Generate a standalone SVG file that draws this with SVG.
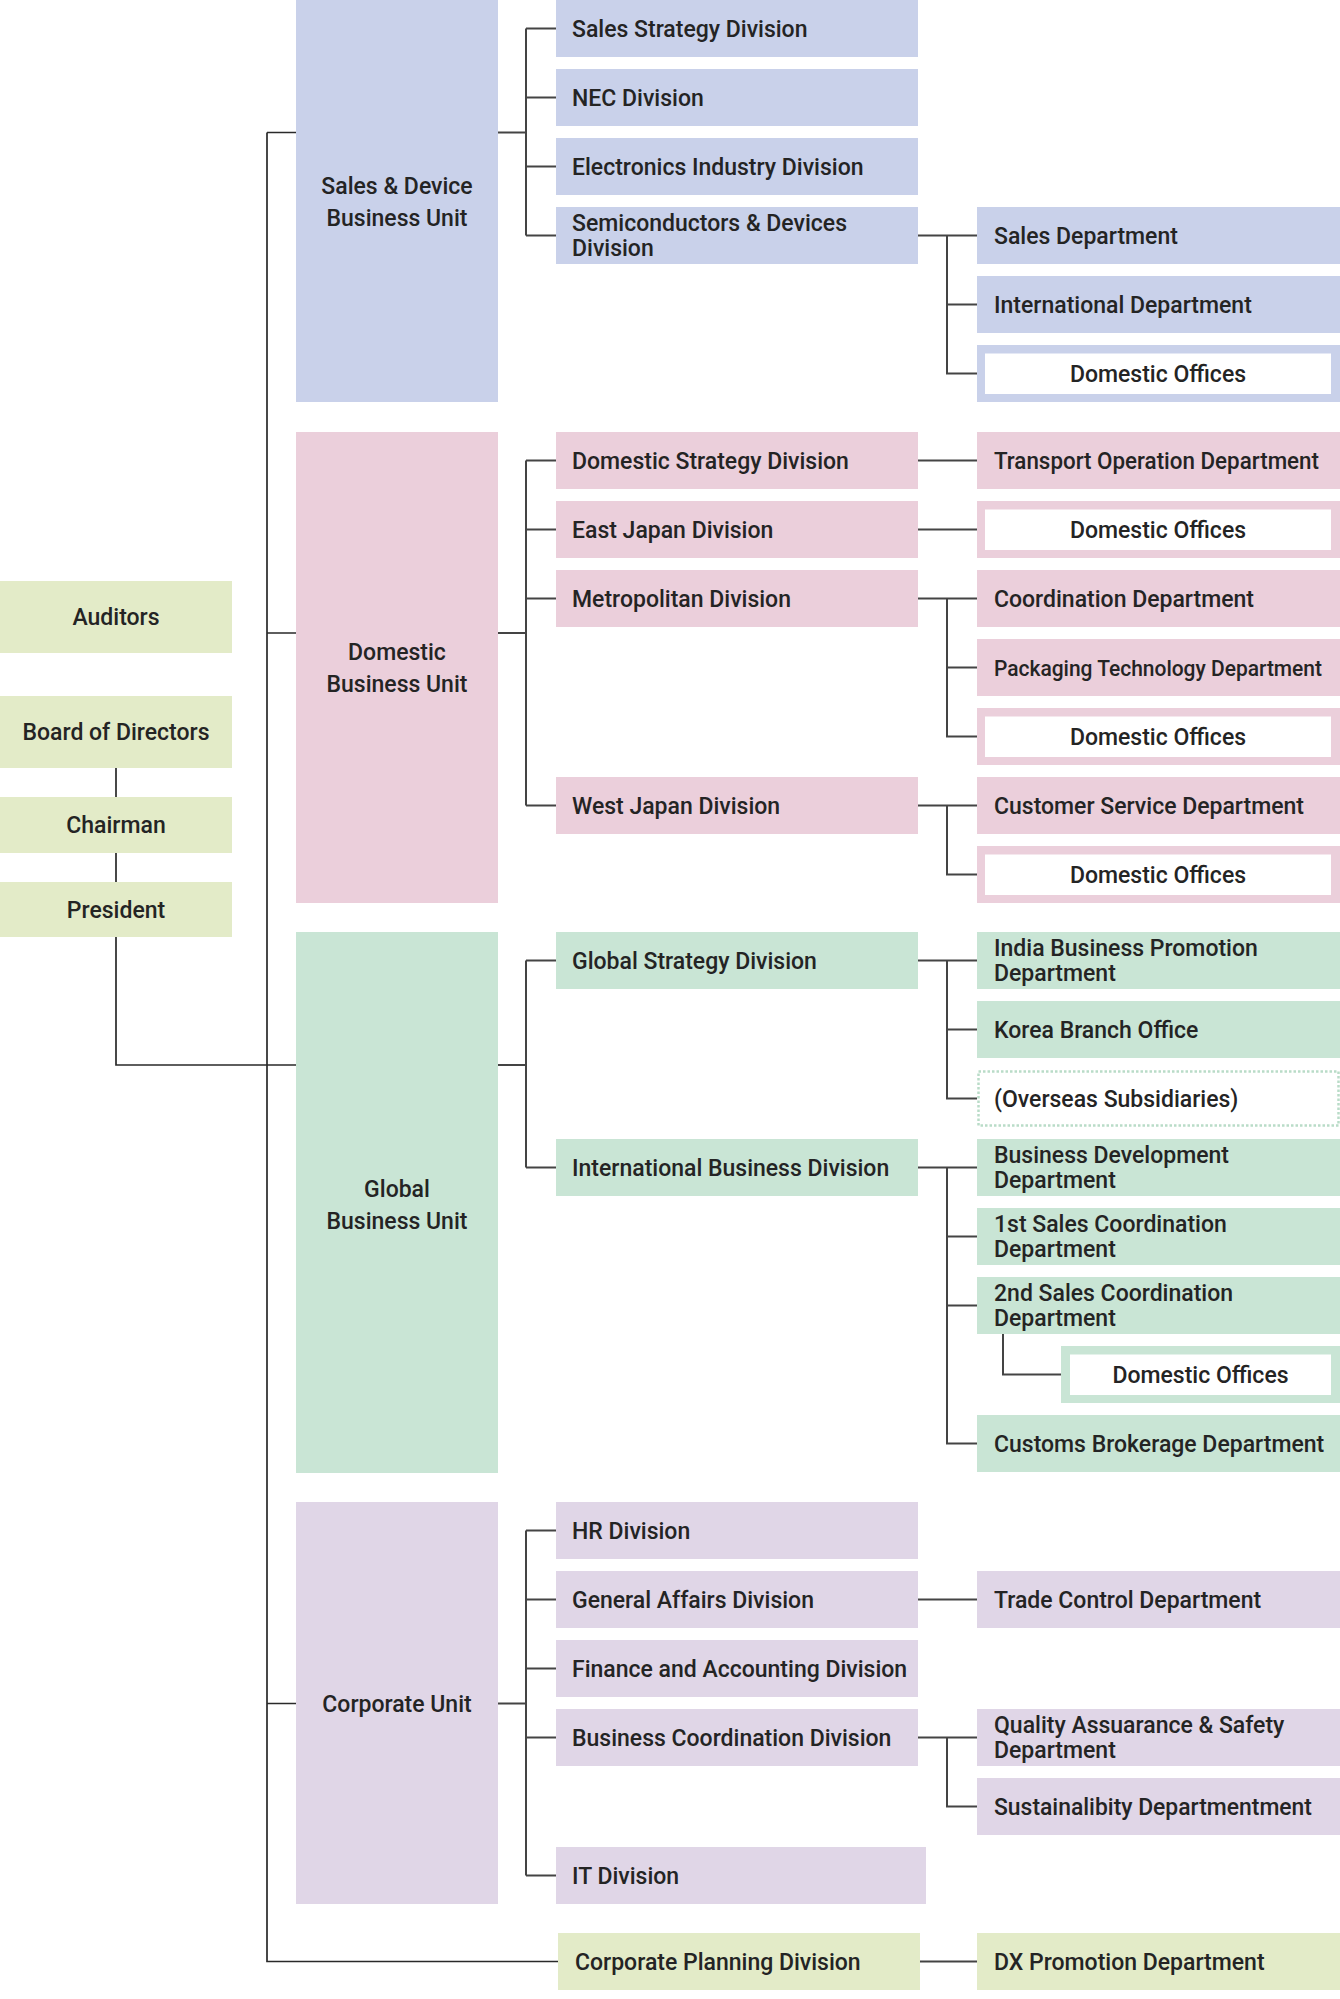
<svg xmlns="http://www.w3.org/2000/svg" width="1340" height="1999" viewBox="0 0 1340 1999">
<style>
text{font-family:Roboto,"Liberation Sans",sans-serif;font-weight:500;font-size:23px;fill:#242424}
.c{text-anchor:middle}
.s{font-size:22px}
.b{fill:#c9d1ea}
.p{fill:#ebcfdb}
.g{fill:#c9e5d5}
.v{fill:#e0d6e7}
.y{fill:#e3ebc8}
.w{fill:#ffffff}
.ln{fill:none;stroke:#444;stroke-width:2}
.tr{fill:none;stroke:#2a2a2a;stroke-width:1.7}
.dot{fill:#ffffff;stroke:#b9dcc8;stroke-width:2.5;stroke-dasharray:2.5 2}
</style>
<rect width="1340" height="1999" fill="#ffffff"/>

<g id="connectors">
<path class="tr" d="M267,132.5 V1961.5 H558"/>
<path class="tr" d="M267,132.5 H296 M267,633 H296 M267,1703.5 H296"/>
<path class="tr" d="M116,768 V797 M116,853 V882 M116,937 V1065 H296"/>
<path class="ln" d="M498,132.5 H526 M526,28.5 V235.5 M526,28.5 H556 M526,97.5 H556 M526,166.5 H556 M526,235.5 H556"/>
<path class="ln" d="M918,235.5 H977 M947,235.5 V373.5 H977 M947,304.5 H977"/>
<path class="ln" d="M498,633 H526 M526,460.5 V805.5 M526,460.5 H556 M526,529.5 H556 M526,598.5 H556 M526,805.5 H556"/>
<path class="ln" d="M918,460.5 H977 M918,529.5 H977 M918,598.5 H977 M947,598.5 V736.5 H977 M947,667.5 H977 M918,805.5 H977 M947,805.5 V874.5 H977"/>
<path class="ln" d="M498,1065 H526 M526,960.5 V1167.5 M526,960.5 H556 M526,1167.5 H556"/>
<path class="ln" d="M918,960.5 H977 M947,960.5 V1098.5 H977 M947,1029.5 H977"/>
<path class="ln" d="M918,1167.5 H977 M947,1167.5 V1443.5 H977 M947,1236.5 H977 M947,1305.5 H977 M1003,1334 V1374.5 H1061"/>
<path class="ln" d="M498,1703.5 H526 M526,1530.5 V1875.5 M526,1530.5 H556 M526,1599.5 H556 M526,1668.5 H556 M526,1737.5 H556 M526,1875.5 H556"/>
<path class="ln" d="M918,1599.5 H977 M918,1737.5 H977 M947,1737.5 V1806.5 H977"/>
<path class="ln" d="M920,1961.5 H977"/>
</g>

<g id="auditors"><rect class="y" x="0" y="581" width="232" height="72"/><text class="c" x="116" y="625">Auditors</text></g>
<g id="board"><rect class="y" x="0" y="696" width="232" height="72"/><text class="c" x="116" y="740">Board of Directors</text></g>
<g id="chairman"><rect class="y" x="0" y="797" width="232" height="56"/><text class="c" x="116" y="833">Chairman</text></g>
<g id="president"><rect class="y" x="0" y="882" width="232" height="55"/><text class="c" x="116" y="918">President</text></g>

<g id="unit-sales-device"><rect class="b" x="296" y="0" width="202" height="402"/><text class="c" x="397" y="194">Sales &amp; Device</text><text class="c" x="397" y="226">Business Unit</text></g>
<g id="div-sales-strategy"><rect class="b" x="556" y="0" width="362" height="57"/><text x="572" y="37">Sales Strategy Division</text></g>
<g id="div-nec"><rect class="b" x="556" y="69" width="362" height="57"/><text x="572" y="106">NEC Division</text></g>
<g id="div-electronics"><rect class="b" x="556" y="138" width="362" height="57"/><text x="572" y="175">Electronics Industry Division</text></g>
<g id="div-semi"><rect class="b" x="556" y="207" width="362" height="57"/><text x="572" y="231">Semiconductors &amp; Devices</text><text x="572" y="255.5">Division</text></g>
<g id="dept-sales"><rect class="b" x="977" y="207" width="363" height="57"/><text x="994" y="244">Sales Department</text></g>
<g id="dept-international"><rect class="b" x="977" y="276" width="363" height="57"/><text x="994" y="313">International Department</text></g>
<g id="office-semi"><rect class="b" x="977" y="345" width="363" height="57"/><rect class="w" x="985" y="353.5" width="346" height="40.5"/><text class="c" x="1158" y="382">Domestic Offices</text></g>

<g id="unit-domestic"><rect class="p" x="296" y="432" width="202" height="471"/><text class="c" x="397" y="660">Domestic</text><text class="c" x="397" y="692">Business Unit</text></g>
<g id="div-domestic-strategy"><rect class="p" x="556" y="432" width="362" height="57"/><text x="572" y="469">Domestic Strategy Division</text></g>
<g id="div-east-japan"><rect class="p" x="556" y="501" width="362" height="57"/><text x="572" y="538">East Japan Division</text></g>
<g id="div-metropolitan"><rect class="p" x="556" y="570" width="362" height="57"/><text x="572" y="607">Metropolitan Division</text></g>
<g id="div-west-japan"><rect class="p" x="556" y="777" width="362" height="57"/><text x="572" y="814">West Japan Division</text></g>
<g id="dept-transport"><rect class="p" x="977" y="432" width="363" height="57"/><text x="994" y="469" textLength="325" lengthAdjust="spacingAndGlyphs">Transport Operation Department</text></g>
<g id="office-east"><rect class="p" x="977" y="501" width="363" height="57"/><rect class="w" x="985" y="509.5" width="346" height="40.5"/><text class="c" x="1158" y="538">Domestic Offices</text></g>
<g id="dept-coordination"><rect class="p" x="977" y="570" width="363" height="57"/><text x="994" y="607">Coordination Department</text></g>
<g id="dept-packaging"><rect class="p" x="977" y="639" width="363" height="57"/><text class="s" x="994" y="676" textLength="328" lengthAdjust="spacingAndGlyphs">Packaging Technology Department</text></g>
<g id="office-metro"><rect class="p" x="977" y="708" width="363" height="57"/><rect class="w" x="985" y="716.5" width="346" height="40.5"/><text class="c" x="1158" y="745">Domestic Offices</text></g>
<g id="dept-customer"><rect class="p" x="977" y="777" width="363" height="57"/><text x="994" y="814">Customer Service Department</text></g>
<g id="office-west"><rect class="p" x="977" y="846" width="363" height="57"/><rect class="w" x="985" y="854.5" width="346" height="40.5"/><text class="c" x="1158" y="883">Domestic Offices</text></g>

<g id="unit-global"><rect class="g" x="296" y="932" width="202" height="541"/><text class="c" x="397" y="1197">Global</text><text class="c" x="397" y="1229">Business Unit</text></g>
<g id="div-global-strategy"><rect class="g" x="556" y="932" width="362" height="57"/><text x="572" y="969">Global Strategy Division</text></g>
<g id="div-international-business"><rect class="g" x="556" y="1139" width="362" height="57"/><text x="572" y="1176">International Business Division</text></g>
<g id="dept-india"><rect class="g" x="977" y="932" width="363" height="57"/><text x="994" y="956">India Business Promotion</text><text x="994" y="980.5">Department</text></g>
<g id="dept-korea"><rect class="g" x="977" y="1001" width="363" height="57"/><text x="994" y="1038">Korea Branch Office</text></g>
<g id="overseas"><rect class="dot" x="978.5" y="1071.5" width="360" height="54"/><text x="994" y="1107">(Overseas Subsidiaries)</text></g>
<g id="dept-business-development"><rect class="g" x="977" y="1139" width="363" height="57"/><text x="994" y="1163">Business Development</text><text x="994" y="1187.5">Department</text></g>
<g id="dept-1st-sales"><rect class="g" x="977" y="1208" width="363" height="57"/><text x="994" y="1232">1st Sales Coordination</text><text x="994" y="1256.5">Department</text></g>
<g id="dept-2nd-sales"><rect class="g" x="977" y="1277" width="363" height="57"/><text x="994" y="1301">2nd Sales Coordination</text><text x="994" y="1325.5">Department</text></g>
<g id="office-global"><rect class="g" x="1061" y="1346" width="279" height="57"/><rect class="w" x="1070" y="1354.5" width="261" height="40.5"/><text class="c" x="1200.5" y="1383">Domestic Offices</text></g>
<g id="dept-customs"><rect class="g" x="977" y="1415" width="363" height="57"/><text x="994" y="1452">Customs Brokerage Department</text></g>

<g id="unit-corporate"><rect class="v" x="296" y="1502" width="202" height="402"/><text class="c" x="397" y="1712">Corporate Unit</text></g>
<g id="div-hr"><rect class="v" x="556" y="1502" width="362" height="57"/><text x="572" y="1539">HR Division</text></g>
<g id="div-general-affairs"><rect class="v" x="556" y="1571" width="362" height="57"/><text x="572" y="1608">General Affairs Division</text></g>
<g id="div-finance"><rect class="v" x="556" y="1640" width="362" height="57"/><text x="572" y="1677">Finance and Accounting Division</text></g>
<g id="div-business-coordination"><rect class="v" x="556" y="1709" width="362" height="57"/><text x="572" y="1746">Business Coordination Division</text></g>
<g id="div-it"><rect class="v" x="556" y="1847" width="370" height="57"/><text x="572" y="1884">IT Division</text></g>
<g id="dept-trade-control"><rect class="v" x="977" y="1571" width="363" height="57"/><text x="994" y="1608">Trade Control Department</text></g>
<g id="dept-quality"><rect class="v" x="977" y="1709" width="363" height="57"/><text x="994" y="1733">Quality Assuarance &amp; Safety</text><text x="994" y="1757.5">Department</text></g>
<g id="dept-sustainability"><rect class="v" x="977" y="1778" width="363" height="57"/><text x="994" y="1815" textLength="318" lengthAdjust="spacingAndGlyphs">Sustainalibity Departmentment</text></g>

<g id="div-corporate-planning"><rect class="y" x="558" y="1933" width="362" height="57"/><text x="575" y="1970">Corporate Planning Division</text></g>
<g id="dept-dx"><rect class="y" x="977" y="1933" width="363" height="57"/><text x="994" y="1970">DX Promotion Department</text></g>
</svg>
